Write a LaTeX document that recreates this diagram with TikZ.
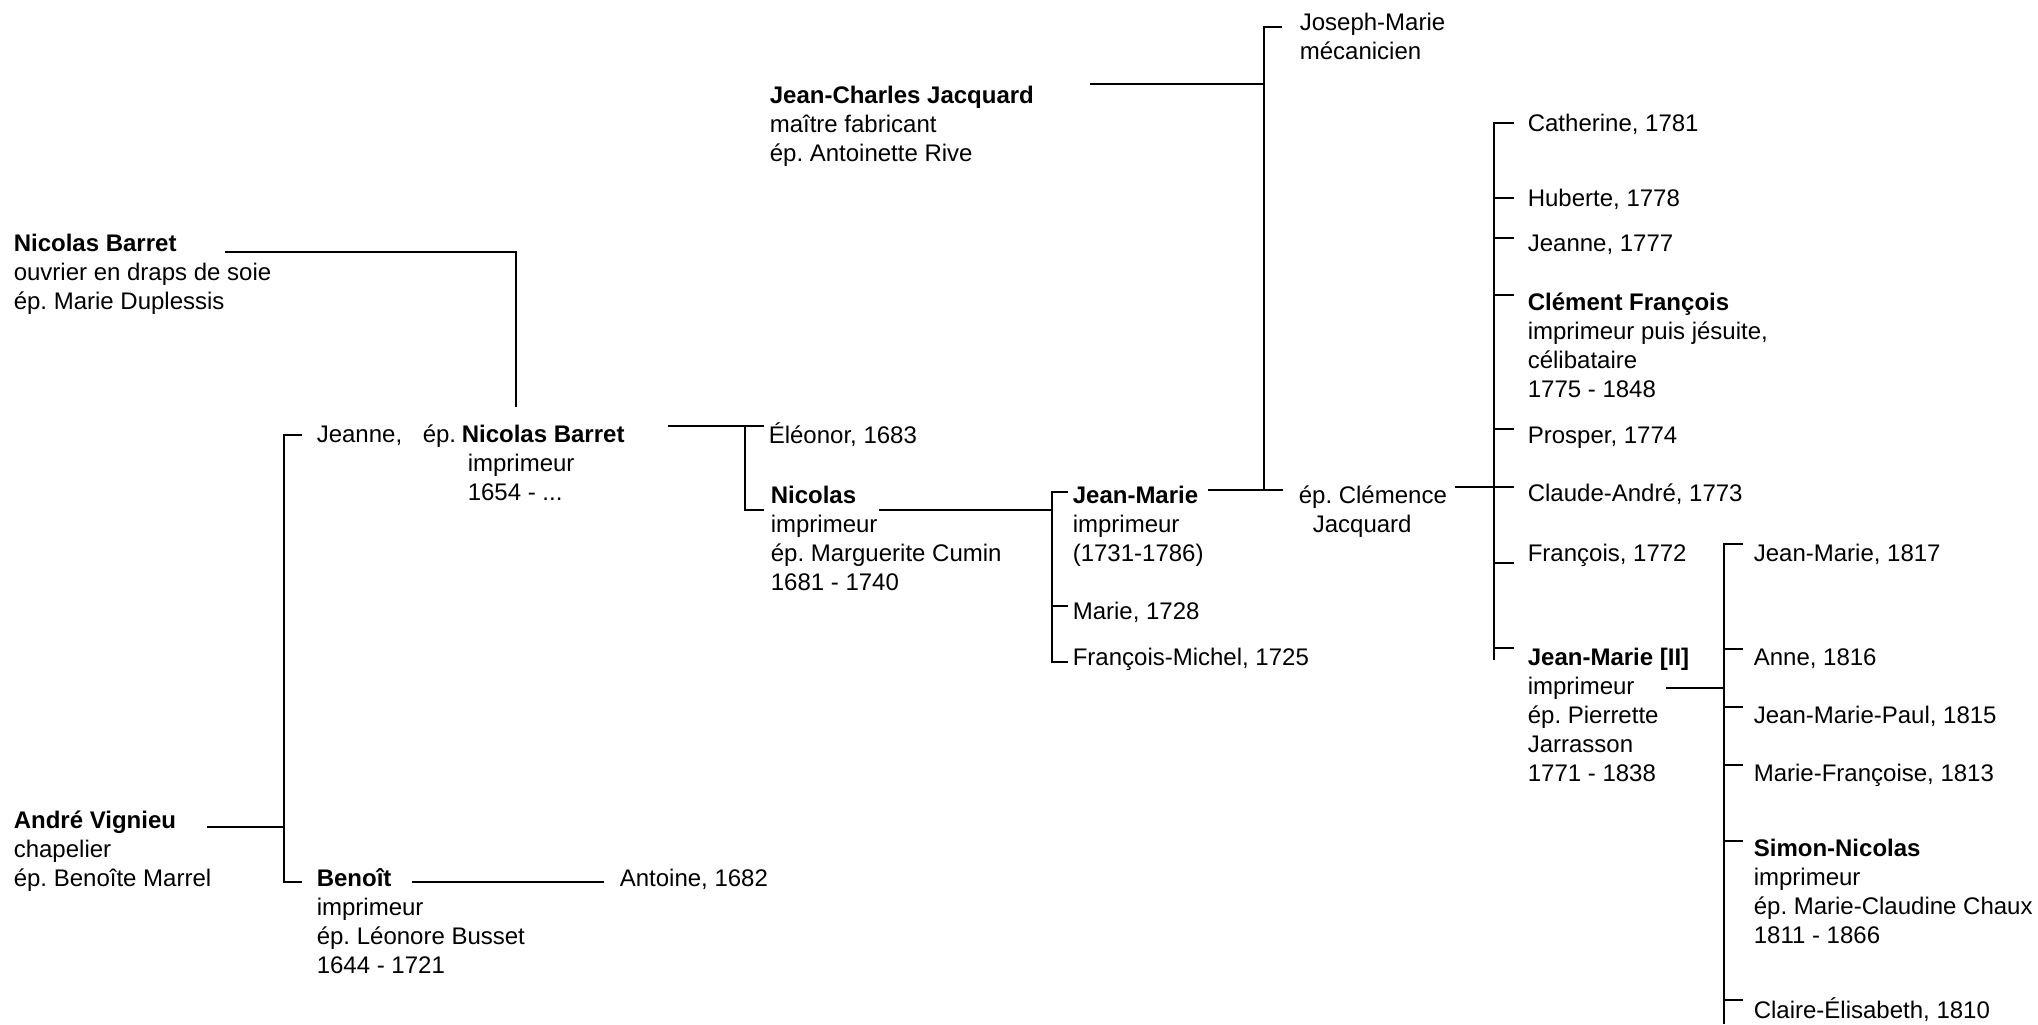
\documentclass[tikz,border=0pt]{standalone}
\usepackage{fontspec}
\setmainfont{Liberation Sans}
\frenchspacing
\newcommand{\ptext}[1]{\begin{tabular}[t]{@{}l@{}}#1\end{tabular}}

\begin{document}
\begin{tikzpicture}[x=0.5pt,y=-0.5pt,line width=0.8pt,
  person/.style={anchor=base west,inner sep=0pt,font=\fontsize{12pt}{14.6pt}\selectfont}]
  \useasboundingbox (0,0) rectangle (2038,1024);

  \node[person] (nbA)      at (13,251)   {\ptext{\textbf{Nicolas Barret}\\ouvrier en draps de soie\\ép. Marie Duplessis}};
  \node[person] (av)       at (13,828)   {\ptext{\textbf{André Vignieu}\\chapelier\\ép. Benoîte Marrel}};
  \node[person] (jeanne)   at (316,442)  {Jeanne,};
  \node[person] (nbep)     at (422,442)  {ép.};
  \node[person] (nbB)      at (461,442)  {\ptext{\textbf{Nicolas Barret}\\\hspace{3pt}imprimeur\\\hspace{3pt}1654 - ...}};
  \node[person] (benoit)   at (316,886)  {\ptext{\textbf{Benoît}\\imprimeur\\ép. Léonore Busset\\1644 - 1721}};
  \node[person] (antoine)  at (619,886)  {Antoine, 1682};
  \node[person] (eleonor)  at (768,443)  {Éléonor, 1683};
  \node[person] (nicolas)  at (770,503)  {\ptext{\textbf{Nicolas}\\imprimeur\\ép. Marguerite Cumin\\1681 - 1740}};
  \node[person] (jcj)      at (769,103)  {\ptext{\textbf{Jean-Charles Jacquard}\\maître fabricant\\ép. Antoinette Rive}};
  \node[person] (josm)     at (1299,30)  {\ptext{Joseph-Marie\\mécanicien}};
  \node[person] (jm)       at (1072,503) {\ptext{\textbf{Jean-Marie}\\imprimeur\\(1731-1786)}};
  \node[person] (marie)    at (1072,619) {Marie, 1728};
  \node[person] (fmichel)  at (1072,665) {François-Michel, 1725};
  \node[person] (clemence) at (1298,503) {\ptext{ép. Clémence\\\hspace{7pt}Jacquard}};

  \node[person] (catherine) at (1527,131) {Catherine, 1781};
  \node[person] (huberte)   at (1527,206) {Huberte, 1778};
  \node[person] (jeanneB)   at (1527,251) {Jeanne, 1777};
  \node[person] (clement)   at (1527,310) {\ptext{\textbf{Clément François}\\imprimeur puis jésuite,\\célibataire\\1775 - 1848}};
  \node[person] (prosper)   at (1527,443) {Prosper, 1774};
  \node[person] (claude)    at (1527,501) {Claude-André, 1773};
  \node[person] (francois)  at (1527,561) {François, 1772};
  \node[person] (jmII)      at (1527,665) {\ptext{\textbf{Jean-Marie [II]}\\imprimeur\\ép. Pierrette\\Jarrasson\\1771 - 1838}};

  \node[person] (jm1817) at (1753,561)  {Jean-Marie, 1817};
  \node[person] (anne)   at (1753,665)  {Anne, 1816};
  \node[person] (jmpaul) at (1753,723)  {Jean-Marie-Paul, 1815};
  \node[person] (mfr)    at (1753,781)  {Marie-Françoise, 1813};
  \node[person] (simon)  at (1753,856)  {\ptext{\textbf{Simon-Nicolas}\\imprimeur\\ép. Marie-Claudine Chaux\\1811 - 1866}};
  \node[person] (claire) at (1753,1018) {Claire-Élisabeth, 1810};

  \coordinate (nbA-out) at (225,252);
  \coordinate (nbB-up) at (516,407);
  \coordinate (av-out) at (207,827);
  \coordinate (bar1) at (284,827);
  \coordinate (jeanne-in) at (302,435);
  \coordinate (benoit-in) at (302,882);
  \coordinate (benoit-out) at (412,882);
  \coordinate (antoine-in) at (604,882);
  \coordinate (nbB-out) at (668,426);
  \coordinate (eleonor-in) at (764,426);
  \coordinate (bar2) at (745,426);
  \coordinate (nicolas-in) at (764,510);
  \coordinate (nicolas-out) at (879,510);
  \coordinate (bar3) at (1052,510);
  \coordinate (jm-in) at (1068,492);
  \coordinate (marie-in) at (1068,606);
  \coordinate (fmichel-in) at (1068,662);
  \coordinate (jm-out) at (1208,490);
  \coordinate (clemence-in) at (1283,490);
  \coordinate (bar4) at (1264,490);
  \coordinate (josm-in) at (1282,27);
  \coordinate (jcj-out) at (1090,84);
  \coordinate (clemence-out) at (1455,487);
  \coordinate (bar5) at (1494,660);
  \foreach \n/\y in {catherine/123,huberte/198,jeanneB/238,clement/295,prosper/429,claude/487,francois/563,jmII/648}
    \coordinate (\n-in) at (1514,\y);
  \coordinate (jmII-out) at (1666,688);
  \coordinate (bar6) at (1724,1024);
  \foreach \n/\y in {jm1817/544,anne/649,jmpaul/707,mfr/765,simon/841,claire/1000}
    \coordinate (\n-in) at (1743,\y);

  \draw (nbA-out) -| (nbB-up);
  \draw (av-out) -- (bar1);
  \draw (jeanne-in) -| (bar1) |- (benoit-in);
  \draw (benoit-out) -- (antoine-in);
  \draw (nbB-out) -- (eleonor-in);
  \draw (bar2) |- (nicolas-in);
  \draw (nicolas-out) -- (bar3);
  \draw (jm-in) -| (bar3) |- (fmichel-in);
  \draw (marie-in) -- (marie-in -| bar3);
  \draw (jm-out) -- (clemence-in);
  \draw (josm-in) -| (bar4);
  \draw (jcj-out) -- (jcj-out -| bar4);
  \draw (clemence-out) -- (claude-in);
  \draw (catherine-in) -| (bar5);
  \foreach \n in {huberte,jeanneB,clement,prosper,francois,jmII}
    \draw (\n-in) -- (\n-in -| bar5);
  \draw (jmII-out) -- (jmII-out -| bar6);
  \draw (jm1817-in) -| (bar6);
  \foreach \n in {anne,jmpaul,mfr,simon,claire}
    \draw (\n-in) -- (\n-in -| bar6);
\end{tikzpicture}
\end{document}
